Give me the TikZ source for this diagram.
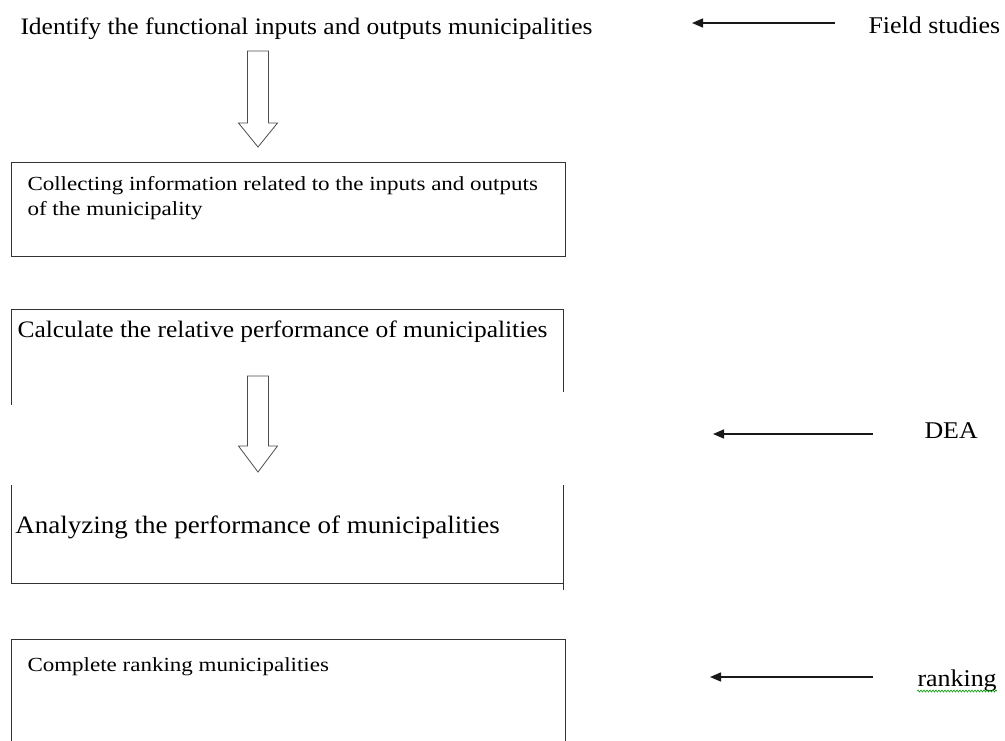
\documentclass[tikz,border=0pt]{standalone}
\usepackage{fontspec}
\setmainfont{Liberation Serif}
\newfontfamily\wideserif[FakeStretch=1.08]{Liberation Serif}
\newfontfamily\widerserif[FakeStretch=1.15]{Liberation Serif}
\usepackage{tikz}
\usetikzlibrary{positioning, arrows.meta, decorations.pathmorphing}

\begin{document}
\begin{tikzpicture}[x=1pt, y=-1pt, line width=1pt,
  big/.style={font=\wideserif\fontsize{23.6}{28}\selectfont, inner sep=0pt, anchor=base west},
  small/.style={font=\widerserif\fontsize{20}{25}\selectfont, inner sep=0pt, anchor=base west, align=left},
  frame/.style={draw=black!80},
  side/.style={line width=1.4pt, -{Triangle[length=11pt, width=9pt]}},
  hollow/.style={draw=black!70, line width=0.8pt, fill=white}]

\useasboundingbox (0,0) rectangle (1005,740);

% boxes
\draw[frame] (11,162) rectangle (565,256);
\draw[frame] (11,405) -- (11,309) -- (563,309) -- (563,392);
\draw[frame] (11,485) -- (11,583) -- (563,583);
\draw[frame] (563,485) -- (563,590);
\draw[frame] (11,742) -- (11,639) -- (565,639) -- (565,742);

% texts
\node[big] (identify) at (20,34) {Identify the functional inputs and outputs municipalities};
\node[small] (collect) at (27,215) {Collecting information related to the inputs and outputs\\of the municipality};
\node[big] (calc) at (17,337) {Calculate the relative performance of municipalities};
\node[big, font=\wideserif\fontsize{25}{28}\selectfont] (analyze) at (15,533) {Analyzing the performance of municipalities};
\node[small] (rank) at (27,671) {Complete ranking municipalities};

\node[big, font=\wideserif\fontsize{24}{28}\selectfont] (field) at (868,33) {Field studies};
\node[big, font=\wideserif\fontsize{24}{28}\selectfont] (dea) at (924,438) {DEA};
\node[big, font=\wideserif\fontsize{24}{28}\selectfont] (ranking) at (917,686) {ranking};

% side arrows
\coordinate (fieldS) at (835,23);
\coordinate (fieldE) at (692,23);
\coordinate (deaS) at (873,434);
\coordinate (deaE) at (713,434);
\coordinate (rankS) at (873,677);
\coordinate (rankE) at (710,677);
\draw[side, black!90] (fieldS) -- (fieldE);
\draw[side, black!90] (deaS) -- (deaE);
\draw[side, black!90] (rankS) -- (rankE);

% spelling underline
\draw[green!60!black, line width=0.6pt, decorate,
  decoration={snake, amplitude=1pt, segment length=3pt}]
  ([yshift=-5pt]ranking.base west) -- ([yshift=-5pt]ranking.base east);

% hollow arrows
\coordinate (A1) at (258,51);
\coordinate (A2) at (258,376);
\draw[hollow] (A1) ++(-10.5,0) -- ++(21,0) -- ++(0,72) -- ++(9,0)
  -- ++(-19.5,24) -- ++(-19.5,-24) -- ++(9,0) -- cycle;
\draw[hollow] (A2) ++(-10.5,0) -- ++(21,0) -- ++(0,70) -- ++(9,0)
  -- ++(-19.5,26) -- ++(-19.5,-26) -- ++(9,0) -- cycle;
\end{tikzpicture}
\end{document}
